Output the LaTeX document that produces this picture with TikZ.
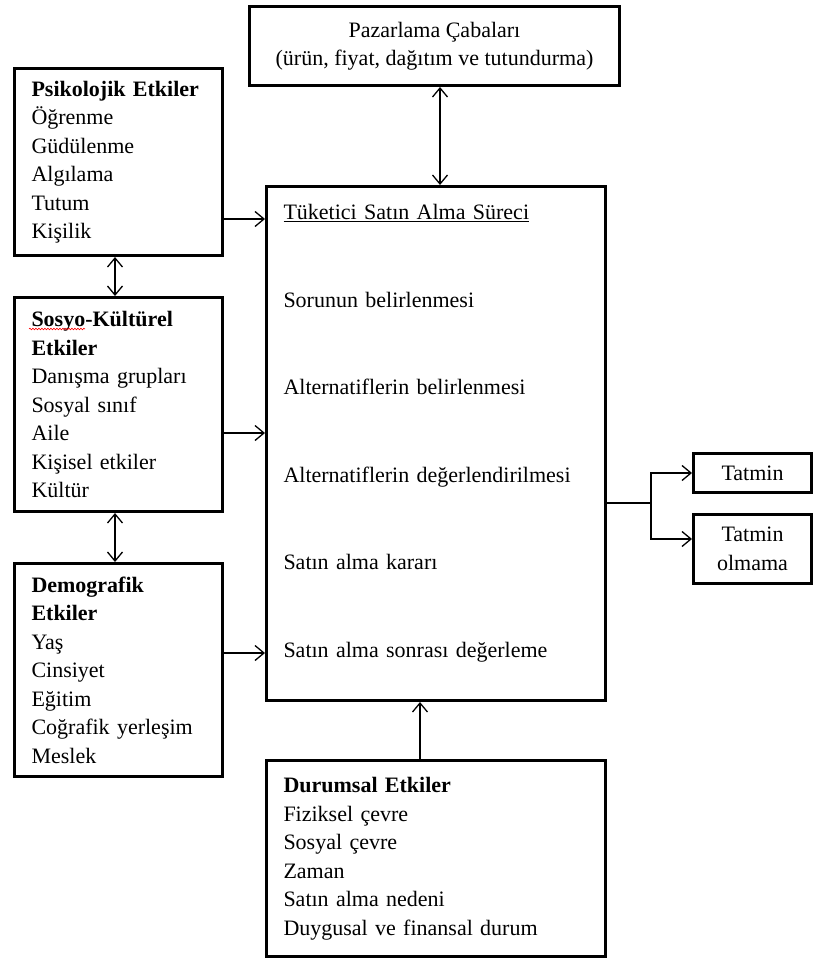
\documentclass[tikz,border=0pt]{standalone}
\usepackage{fontspec}
\setmainfont{Liberation Serif}
\usetikzlibrary{arrows.meta,decorations.pathmorphing}

\begin{document}
\begin{tikzpicture}[x=1pt,y=-1pt,font=\fontsize{22}{28.5}\selectfont,
  box/.style={draw,line width=3pt,anchor=north west,align=left,inner xsep=17pt,inner ysep=3pt},
  link/.style={line width=1.3pt,-{Straight Barb[length=9pt,width=15pt]}},
  twoway/.style={line width=1.3pt,{Straight Barb[length=9pt,width=15pt]}-{Straight Barb[length=9pt,width=15pt]}}]
\useasboundingbox (0,0) rectangle (815,961);
\node[box,align=center,minimum width=370pt,minimum height=79pt] (paz) at (248,5)
  {Pazarlama Çabaları\\(ürün, fiyat, dağıtım ve tutundurma)};
\node[box,text width=174pt,minimum height=187pt] (psik) at (13,67)
  {\textbf{Psikolojik Etkiler}\\Öğrenme\\Güdülenme\\Algılama\\Tutum\\Kişilik};
\node[box,text width=174pt,minimum height=214pt] (sosyo) at (13,296)
  {\textbf{Sosyo-Kültürel}\\\textbf{Etkiler}\\Danışma grupları\\Sosyal sınıf\\Aile\\Kişisel etkiler\\Kültür};
\node[box,text width=174pt,minimum height=213pt] (demo) at (13,562)
  {\textbf{Demografik}\\\textbf{Etkiler}\\Yaş\\Cinsiyet\\Eğitim\\Coğrafik yerleşim\\Meslek};
\node[box,text width=305pt,minimum height=514pt] (main) at (265,185)
  {\underline{Tüketici Satın Alma Süreci}\\[59pt]Sorunun belirlenmesi\\[59pt]Alternatiflerin belirlenmesi\\[59pt]Alternatiflerin değerlendirilmesi\\[59pt]Satın alma kararı\\[59pt]Satın alma sonrası değerleme\\[-3pt]\mbox{}};
\node[box,text width=305pt,minimum height=196pt] (dur) at (265,759)
  {\textbf{Durumsal Etkiler}\\Fiziksel çevre\\Sosyal çevre\\Zaman\\Satın alma nedeni\\Duygusal ve finansal durum};
\node[box,align=center,inner xsep=3pt,minimum width=118pt,minimum height=39pt] (tat) at (692,452) {Tatmin};
\node[box,align=center,inner xsep=3pt,minimum width=118pt,minimum height=69pt] (olm) at (692,513) {Tatmin\\olmama};
\draw[red,line width=0.6pt,decorate,decoration={snake,amplitude=0.8pt,segment length=3pt}] (29,329) -- (85,329);
\draw[twoway] (paz.south -| 440,0) -- (main.north -| 440,0);
\draw[twoway] (psik.south -| 115,0) -- (sosyo.north -| 115,0);
\draw[twoway] (sosyo.south -| 115,0) -- (demo.north -| 115,0);
\draw[link] (psik.east |- 0,219) -- (main.west |- 0,219);
\draw[link] (sosyo.east |- 0,433) -- (main.west |- 0,433);
\draw[link] (demo.east |- 0,653) -- (main.west |- 0,653);
\draw[link] (dur.north -| 420,0) -- (main.south -| 420,0);
\draw[line width=1.3pt] (main.east |- 0,503) -- (651,503) coordinate (split);
\draw[link] (split) |- (tat.west);
\draw[link] (split) |- (olm.west |- 0,539);
\end{tikzpicture}
\end{document}
